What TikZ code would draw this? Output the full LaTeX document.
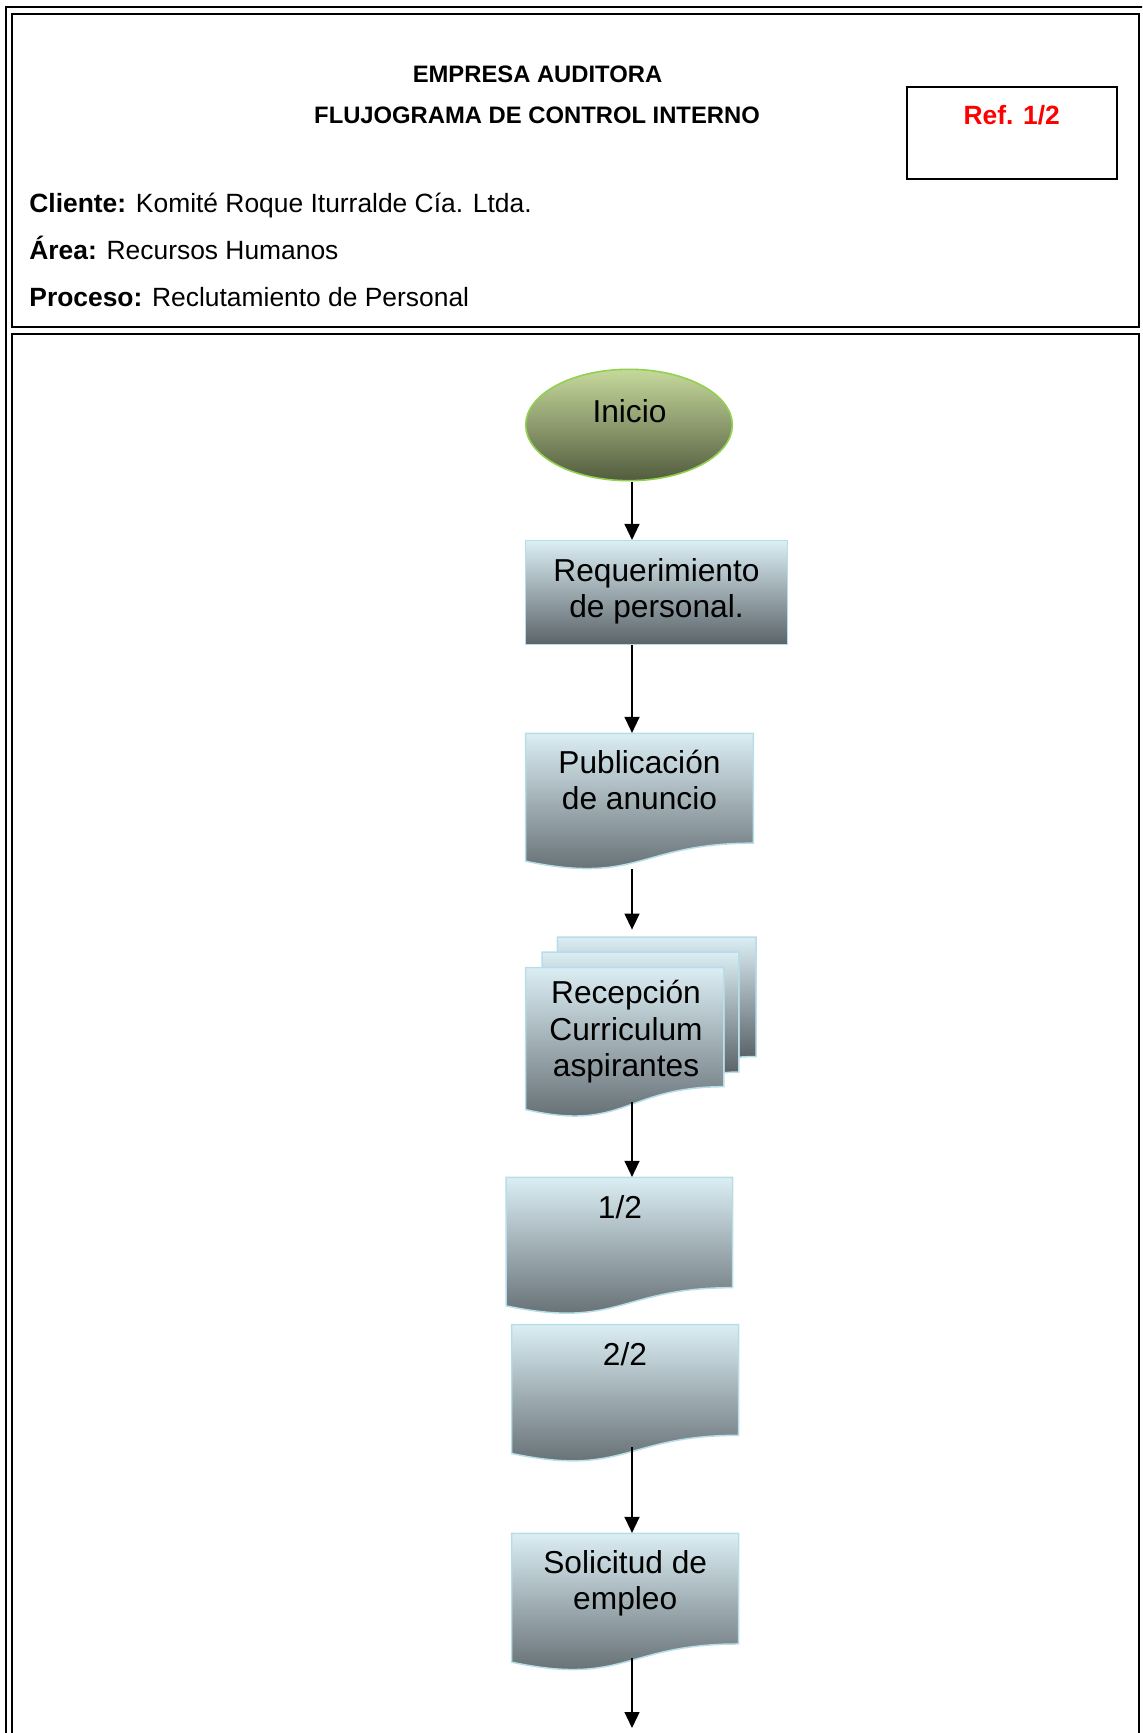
\documentclass[tikz,border=0pt]{standalone}
\usepackage{fontspec}
\setmainfont{Liberation Sans}
\usetikzlibrary{shapes.geometric,arrows.meta,fit,calc}

\definecolor{boxtop}{RGB}{219,238,244}
\definecolor{boxbot}{RGB}{90,99,104}
\definecolor{boxline}{RGB}{183,221,232}
\definecolor{elltop}{RGB}{198,217,156}
\definecolor{ellbot}{RGB}{82,92,62}
\definecolor{elline}{RGB}{146,208,80}
\definecolor{refred}{RGB}{255,0,0}

\newcommand{\ftitle}{\fontsize{11.9pt}{14pt}\selectfont\bfseries}
\newcommand{\fbody}{\fontsize{13.2pt}{15.5pt}\selectfont}
\newcommand{\fflow}{\fontsize{15.85pt}{19pt}\selectfont}

% document shape: name, x0, y0, w, h (pixel units)
\newcommand{\docshape}[5]{%
  \path[docfill] (#2,#3) -- (#2+#4,#3) -- (#2+#4,#3+0.8019*#5)
    .. controls (#2+0.5*#4,#3+0.8019*#5) and (#2+0.5*#4,#3+1.1075*#5) .. (#2,#3+0.9339*#5) -- cycle;
  \node[fit={(#2,#3) (#2+#4,#3+0.987*#5)}, inner sep=0pt] (#1) {};
}

\tikzset{
  frameline/.style={line width=1pt, draw=black},
  arr/.style={line width=0.65pt, draw=black, -{Triangle[width=7.5pt,length=8pt]}},
  docfill/.style={top color=boxtop, bottom color=boxbot, draw=boxline, line width=0.75pt},
  titletext/.style={font=\ftitle, anchor=base, inner sep=0pt},
  bodytext/.style={font=\fbody, anchor=base west, inner sep=0pt},
  flowtext/.style={font=\fflow, anchor=base, inner sep=0pt},
}

\begin{document}
\begin{tikzpicture}[x=0.5pt,y=-0.5pt]
\useasboundingbox (0,0) rectangle (1142,1733);
\clip (0,0) rectangle (1142,1733);

% frames
\draw[frameline] (6,1745) -- (6,7) -- (1150,7);
\draw[frameline] (12,14) rectangle (1139,327);
\draw[frameline] (12,1745) -- (12,334.5) -- (1139,334.5) -- (1139,1745);

% header
\node[titletext] (t1) at (537.5,82.5) {EMPRESA AUDITORA};
\node[titletext] (t2) at (537,123.5) {FLUJOGRAMA DE CONTROL INTERNO};
\node[draw=black, line width=1pt, minimum width=104.7pt, minimum height=45.85pt, inner sep=0pt] (refbox) at (1012,133.2) {};
\node[titletext, font=\fbody\bfseries, text=refred] (reft) at (1011.7,124.3) {Ref. 1/2};
\node[bodytext] (cli) at (29,213) {\textbf{Cliente:} Komité Roque Iturralde Cía. Ltda.};
\node[bodytext] (are) at (29,260) {\textbf{Área:} Recursos Humanos};
\node[bodytext] (pro) at (29,306.5) {\textbf{Proceso:} Reclutamiento de Personal};

% flowchart
\coordinate (axis) at (632,0);

\node[ellipse, minimum width=103.3pt, minimum height=55.7pt, inner sep=0pt,
      top color=elltop, bottom color=ellbot, draw=elline, line width=0.8pt] (inicio) at (629,425) {};
\node[flowtext] (inicioT) at (629.5,422.7) {Inicio};

\node[rectangle, minimum width=130.8pt, minimum height=52pt, inner sep=0pt,
      top color=boxtop, bottom color=boxbot, draw=boxline, line width=0.75pt] (req) at (656.5,592.7) {};
\node[flowtext] (reqA) at (656.5,581.7) {Requerimiento};
\node[flowtext] (reqB) at (656.5,617.5) {de personal.};

\docshape{pub}{525.7}{733.3}{227.6}{137}
\node[flowtext] (pubA) at (639.5,773.3) {Publicación};
\node[flowtext] (pubB) at (639.5,809.4) {de anuncio};

\begin{scope}[shift={(525.7,937)}, xscale=0.2303, yscale=0.1794]
  \path[docfill] (137.6,84) -- (137.6,0) -- (1000,0) -- (1000,666.3)
     .. controls (963,666.3) and (925.9,669.8) .. (925.9,669.8) -- (925.9,84) -- cycle;
  \path[docfill] (70.9,170.1) -- (70.9,84) -- (925.9,84) -- (925.9,752.4)
     .. controls (893.4,752.4) and (860.9,757) .. (860.9,757) -- (860.9,170.1) -- cycle;
  \path[docfill] (0,170.1) -- (860.9,170.1) -- (860.9,834.4)
     .. controls (430.5,834.4) and (430.5,1089.9) .. (0,962.1) -- cycle;
\end{scope}
\node[fit={(525.7,937) (756,1114.8)}, inner sep=0pt] (multi) {};
\node[flowtext] (recA) at (626,1003.3) {Recepción};
\node[flowtext] (recB) at (626,1040.5) {Curriculum};
\node[flowtext] (recC) at (626,1076.7) {aspirantes};

\docshape{d1}{506}{1177.3}{226.7}{137.6}
\node[flowtext] (d1T) at (620,1218.3) {1/2};

\docshape{d2}{511.7}{1324.7}{227}{137.9}
\node[flowtext] (d2T) at (625,1365) {2/2};

\docshape{sol}{511.7}{1533.3}{227}{138}
\node[flowtext] (solA) at (625.2,1573.3) {Solicitud de};
\node[flowtext] (solB) at (625.2,1609.5) {empleo};

\coordinate (endpt) at (632,1728);

% connectors
\draw[arr] (inicio.south -| axis) -- (req.north -| axis);
\draw[arr] (req.south -| axis) -- (pub.north -| axis);
\draw[arr] (pub.south -| axis) -- ($(multi.north -| axis)+(0,-7)$);
\draw[arr] ($(multi.south -| axis)+(0,-13)$) -- (d1.north -| axis);
\draw[arr] ($(d2.south -| axis)+(0,-14)$) -- (sol.north -| axis);
\draw[arr] ($(sol.south -| axis)+(0,-11.5)$) -- (endpt);
\end{tikzpicture}
\end{document}
